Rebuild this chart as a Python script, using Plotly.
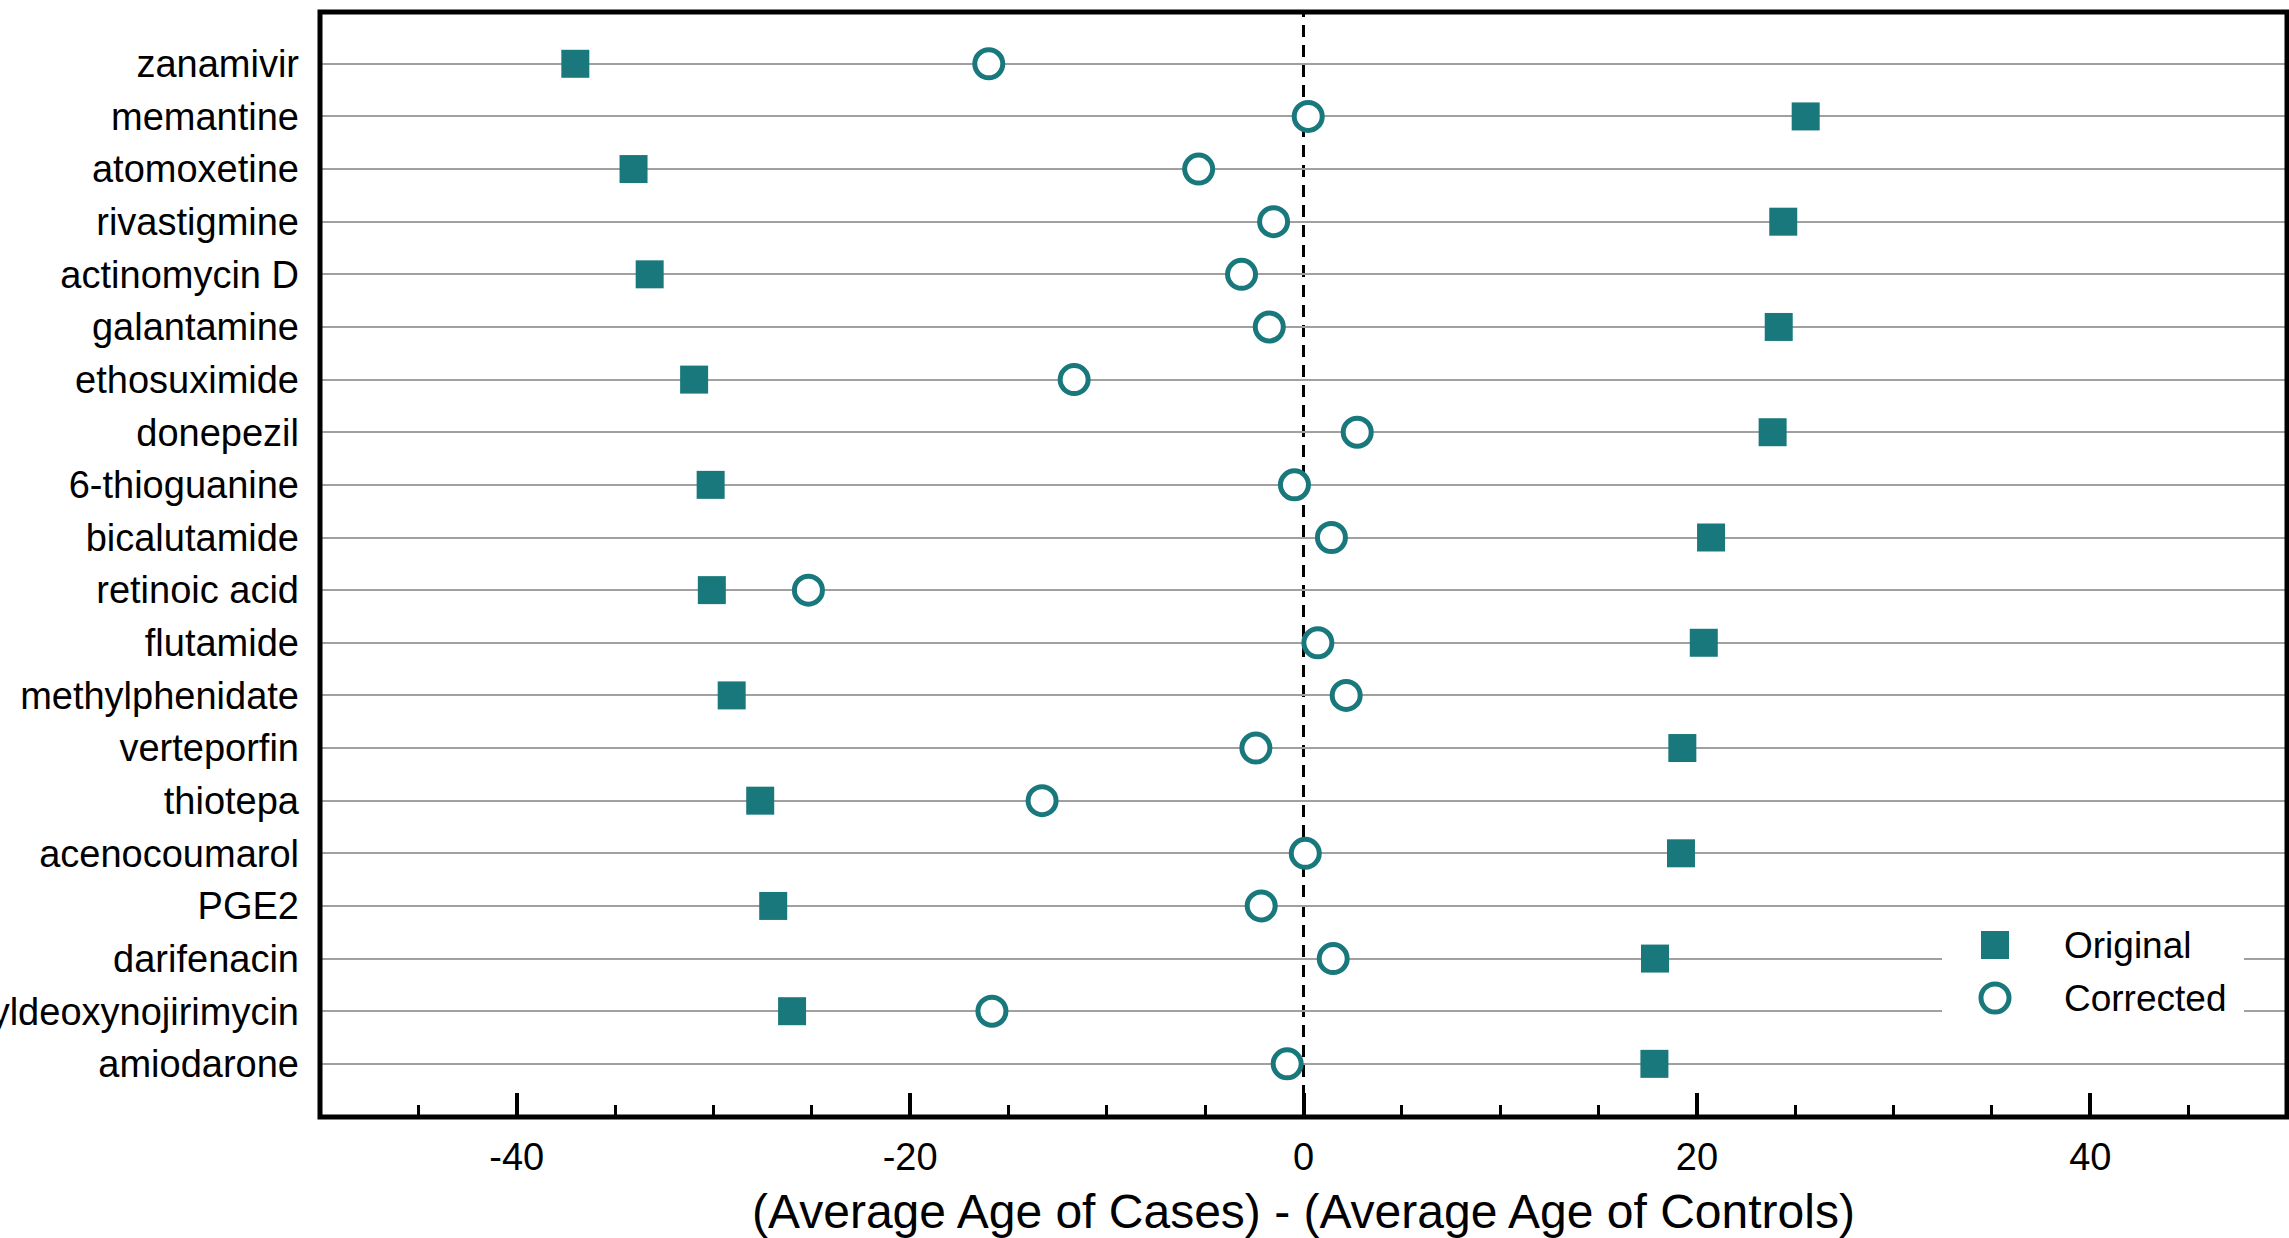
import plotly.graph_objects as go

# Drugs, listed top to bottom
drugs = [
    "zanamivir", "memantine", "atomoxetine", "rivastigmine", "actinomycin D",
    "galantamine", "ethosuximide", "donepezil", "6-thioguanine", "bicalutamide",
    "retinoic acid", "flutamide", "methylphenidate", "verteporfin", "thiotepa",
    "acenocoumarol", "PGE2", "darifenacin", "N-butyldeoxynojirimycin", "amiodarone",
]

# (Average age of cases) - (average age of controls), in years
original = [
    -37.02, 25.53, -34.06, 24.39, -33.24, 24.16, -30.98, 23.85, -30.14, 20.72,
    -30.08, 20.35, -29.07, 19.26, -27.62, 19.19, -26.96, 17.87, -26.00, 17.84,
]
corrected = [
    -16.00, 0.24, -5.33, -1.52, -3.15, -1.74, -11.66, 2.73, -0.46, 1.42,
    -25.17, 0.73, 2.17, -2.42, -13.29, 0.09, -2.15, 1.51, -15.84, -0.83,
]

series_names = ["Original", "Corrected"]
x_ticks = [-40, -20, 0, 20, 40]
x_tick_text = ["-40", "-20", "0", "20", "40"]

TEAL = "#19787b"
FONT = "Liberation Sans, Arial, Helvetica, sans-serif"
W, H = 2289, 1238
ML, MR, MT, MB = 320, 2, 12, 121
Y_RANGE = [20.01, -0.984]

fig = go.Figure()

fig.add_trace(go.Scatter(
    x=original, y=drugs, mode="markers", name=series_names[0],
    marker=dict(symbol="square", size=28, color=TEAL, line=dict(width=0)),
    showlegend=False,
))
fig.add_trace(go.Scatter(
    x=corrected, y=drugs, mode="markers", name=series_names[1],
    marker=dict(symbol="circle", size=28, color="white",
                line=dict(width=5, color=TEAL)),
    showlegend=False,
))

# Legend drawn on an overlay axis measured in screen pixels
x2_range = [ML, W - MR]
y2_range = [H - MB, MT]
box = dict(x0=1942, x1=2244, y0=918, y1=1034)
fig.add_trace(go.Scatter(
    x=[box["x0"], box["x1"], box["x1"], box["x0"], box["x0"]],
    y=[box["y0"], box["y0"], box["y1"], box["y1"], box["y0"]],
    xaxis="x2", yaxis="y2", mode="lines", fill="toself",
    fillcolor="white", line=dict(width=0, color="white"),
    hoverinfo="skip", showlegend=False,
))
legend_rows = [945, 998]
fig.add_trace(go.Scatter(
    x=[1995], y=[legend_rows[0]], xaxis="x2", yaxis="y2", mode="markers",
    marker=dict(symbol="square", size=28, color=TEAL, line=dict(width=0)),
    hoverinfo="skip", showlegend=False,
))
fig.add_trace(go.Scatter(
    x=[1995], y=[legend_rows[1]], xaxis="x2", yaxis="y2", mode="markers",
    marker=dict(symbol="circle", size=28, color="white",
                line=dict(width=5, color=TEAL)),
    hoverinfo="skip", showlegend=False,
))
for name, row in zip(series_names, legend_rows):
    fig.add_annotation(
        x=2062, y=row, xref="x2", yref="y2", text=name, showarrow=False,
        xanchor="left", yanchor="middle", font=dict(family=FONT, size=37, color="black"),
    )

# Dashed reference line at zero difference
fig.add_shape(
    type="line", x0=0, x1=0, y0=Y_RANGE[0], y1=Y_RANGE[1], xref="x", yref="y",
    line=dict(color="black", width=3, dash="12px,8px"), layer="below",
)
# Heavy frame around the plotting area
fig.add_shape(
    type="rect", x0=0, x1=1, y0=0, y1=1, xref="paper", yref="paper",
    line=dict(color="black", width=5), layer="above",
)

fig.update_layout(
    width=W, height=H,
    margin=dict(l=ML, r=MR, t=MT, b=MB, autoexpand=False),
    paper_bgcolor="white", plot_bgcolor="white",
    showlegend=False,
    font=dict(family=FONT, size=38, color="black"),
    xaxis=dict(
        range=[-50, 50], tickvals=x_ticks, ticktext=x_tick_text,
        ticks="inside", ticklen=24,
        tickwidth=4, tickcolor="black", showgrid=False, zeroline=False,
        showline=False, automargin=False, ticklabelstandoff=14,
        tickfont=dict(family=FONT, size=38, color="black"),
        minor=dict(dtick=5, ticks="inside", ticklen=12, tickwidth=2.5,
                   tickcolor="black", showgrid=False),
        title=dict(text="(Average Age of Cases) - (Average Age of Controls)",
                   font=dict(family=FONT, size=48, color="black"), standoff=18),
    ),
    yaxis=dict(
        type="category", categoryorder="array", categoryarray=drugs,
        range=Y_RANGE, showgrid=True, gridcolor="#a0a0a0", gridwidth=2,
        zeroline=False, showline=False, ticks="", automargin=False,
        ticklabelstandoff=20,
        tickfont=dict(family=FONT, size=38, color="black"),
    ),
    xaxis2=dict(range=x2_range, overlaying="x", anchor="y2", visible=False),
    yaxis2=dict(range=y2_range, overlaying="y", anchor="x2", visible=False),
)

fig.write_html("out.html")
